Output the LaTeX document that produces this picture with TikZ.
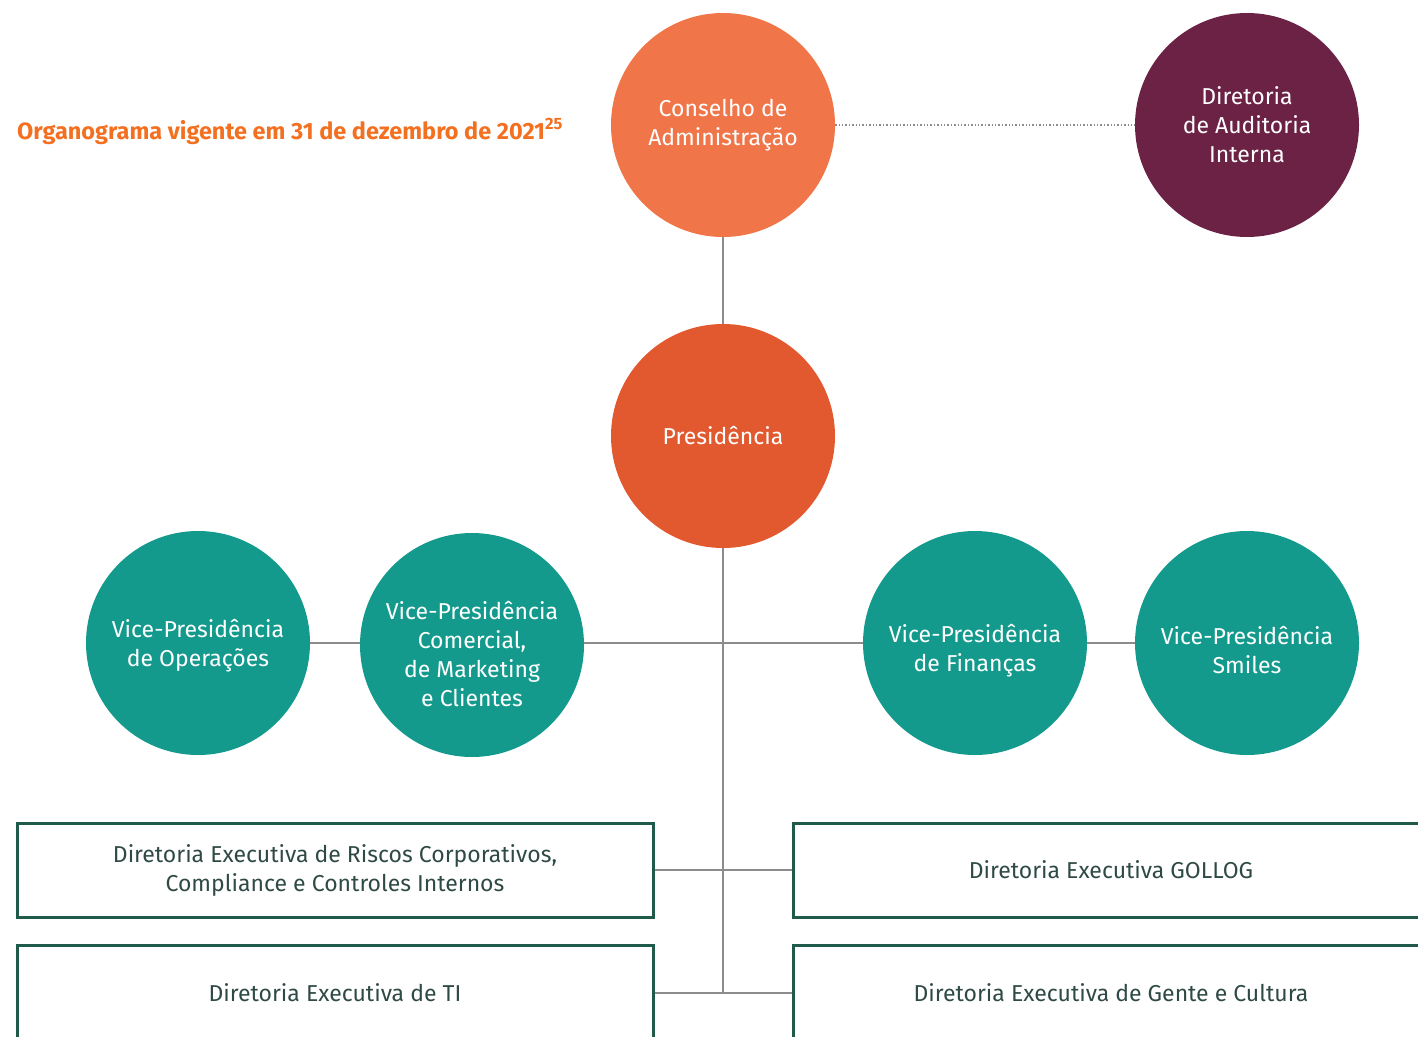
\documentclass[tikz,border=0pt]{standalone}
\usepackage{fontspec}
\setmainfont{Fira Sans}
\definecolor{orgorange}{HTML}{F0764A}
\definecolor{presred}{HTML}{E2592F}
\definecolor{audwine}{HTML}{6B2244}
\definecolor{vpteal}{HTML}{139A8D}
\definecolor{boxline}{HTML}{1F5A4B}
\definecolor{boxtext}{HTML}{2F4A45}
\definecolor{linkgray}{HTML}{8C8C8C}
\definecolor{titleorange}{HTML}{F37021}
\begin{document}
\begin{tikzpicture}[x=1pt,y=-1pt,
  unittext/.style={text=white,align=center,inner sep=0pt,font=\fontsize{23}{29}\selectfont},
  unit/.style={circle,minimum size=224pt,inner sep=0pt,unittext},
  % teal circle whose text sits slightly below its centre
  vp/.style 2 args={unit,fill=vpteal,label={[unittext,yshift=-#1pt]center:#2}},
  dirbox/.style={draw=boxline,line width=3pt,minimum width=636pt,minimum height=94pt,
    inner sep=0pt,align=center,text=boxtext,font=\fontsize{23}{29}\selectfont},
  link/.style={draw=linkgray,line width=1.4pt},
  dotlink/.style={draw=linkgray,line width=1.4pt,dotted}]
\useasboundingbox (0,0) rectangle (1418,1036);
\clip (0,0) rectangle (1418,1036);

% title
\node[anchor=base west,inner sep=0pt,text=titleorange,font=\fontsize{23.5}{26}\selectfont\bfseries]
  (title) at (17,139) {Organograma vigente em 31 de dezembro de 2021\textsuperscript{25}};

% board, presidency and internal audit
\node[unit,fill=orgorange] (cons) at (723,125) {Conselho de\\Administração};
\node[unit,fill=audwine] (aud) at (1247,125) {Diretoria\\de Auditoria\\Interna};
\node[unit,fill=presred] (pres) at (723,436) {Presidência};

% vice-presidencies
\node[vp={3}{Vice-Presidência\\de Operações}] (ops) at (198,643) {};
\node[vp={9}{Vice-Presidência\\Comercial,\\de Marketing\\e Clientes}] (com) at (472,645) {};
\node[vp={8}{Vice-Presidência\\de Finanças}] (fin) at (975,643) {};
\node[vp={7}{Vice-Presidência\\Smiles}] (smi) at (1247,643) {};

% executive directorates
\node[dirbox] (risk) at (335,870) {Diretoria Executiva de Riscos Corporativos,\\Compliance e Controles Internos};
\node[dirbox,minimum height=96pt] (ti) at (335,993) {Diretoria Executiva de TI};
\node[dirbox] (gol) at (1111,870) {Diretoria Executiva GOLLOG};
\node[dirbox,minimum height=96pt] (gente) at (1111,993) {Diretoria Executiva de Gente e Cultura};

% connectors
\coordinate (hub) at (pres.south |- ti.east);
\path[dotlink] (cons.east) -- (aud.west);
\path[link] (cons.south) -- (pres.north);
\path[link] (pres.south) -- (hub);
\path[link] (ops.east) -- (com.west |- ops.east);
\path[link] (com.east |- fin.west) -- (fin.west);
\path[link] (fin.east) -- (smi.west);
\path[link] (risk.east) -- (gol.west);
\path[link] (ti.east) -- (gente.west);
\end{tikzpicture}
\end{document}
